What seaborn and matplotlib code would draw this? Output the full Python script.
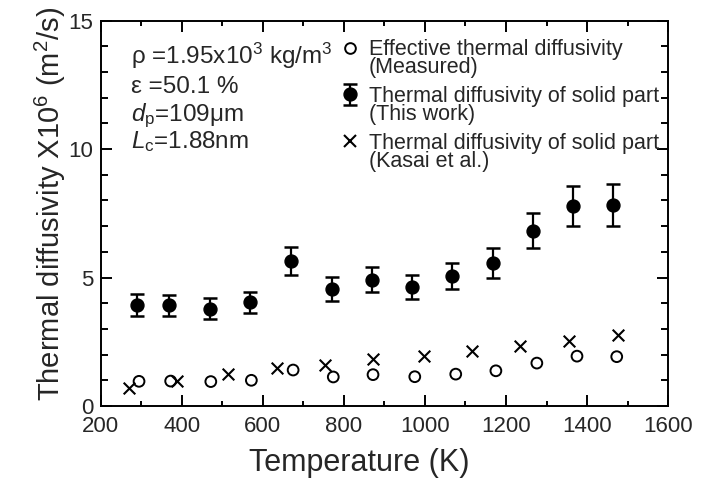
import matplotlib
matplotlib.use('Agg')
import matplotlib.pyplot as plt
import seaborn as sns
import pandas as pd
from matplotlib.lines import Line2D
from matplotlib.ticker import MultipleLocator

# effective thermal diffusivity, measured (open circles)
temp_eff = [295, 373, 472, 572, 675, 774, 872, 975, 1076, 1175, 1276, 1375, 1473]
alpha_eff = [0.96, 0.97, 0.95, 1.00, 1.40, 1.13, 1.22, 1.14, 1.24, 1.37, 1.67, 1.94, 1.92]

# solid part, this work (filled circles with error bars)
temp_solid = [291, 369, 470, 569, 669, 770, 869, 967, 1067, 1167, 1266, 1365, 1465]
alpha_solid = [3.93, 3.92, 3.79, 4.03, 5.63, 4.56, 4.92, 4.63, 5.06, 5.57, 6.83, 7.79, 7.84]
alpha_solid_err = [0.42, 0.42, 0.40, 0.41, 0.55, 0.47, 0.50, 0.47, 0.52, 0.57, 0.69, 0.79, 0.82]

# solid part, Kasai et al. (crosses)
temp_kasai = [270, 389, 514, 636, 754, 871, 998, 1116, 1235, 1355, 1476]
alpha_kasai = [0.71, 0.99, 1.23, 1.47, 1.61, 1.81, 1.95, 2.14, 2.33, 2.52, 2.76]

legend_first = ['Effective thermal diffusivity',
                'Thermal diffusivity of solid part',
                'Thermal diffusivity of solid part']
legend_second = ['(Measured)', '(This work)', '(Kasai et al.)']
sample_info = [r'ρ =1.95x10$^3$ kg/m$^3$', 'ε =50.1 %',
               r'$d_\mathrm{p}$=109μm', r'$L_\mathrm{c}$=1.88nm']

sns.set_theme(style='ticks')
plt.rcParams['font.family'] = ['Liberation Sans', 'DejaVu Sans']
plt.rcParams['mathtext.fontset'] = 'custom'
plt.rcParams['mathtext.rm'] = 'Liberation Sans'
plt.rcParams['mathtext.it'] = 'Liberation Sans:italic'
plt.rcParams['mathtext.bf'] = 'Liberation Sans:bold'

fig = plt.figure(figsize=(7.2, 4.82), dpi=100)
ax = fig.add_axes([0.1396, 0.1577, 0.7885, 0.7994])

eff = pd.DataFrame({'T': temp_eff, 'a': alpha_eff})
kas = pd.DataFrame({'T': temp_kasai, 'a': alpha_kasai})

sns.scatterplot(data=eff, x='T', y='a', marker='o', s=60, facecolor='none',
                edgecolor='black', linewidth=1.4, ax=ax, zorder=3)
sns.scatterplot(data=kas, x='T', y='a', marker='x', s=70, color='black',
                linewidth=1.5, ax=ax, zorder=3)
eb = ax.errorbar(temp_solid, alpha_solid, yerr=alpha_solid_err, fmt='o',
                 color='black', ms=9.3, elinewidth=1.6, capsize=4.9,
                 capthick=1.8, zorder=4)

ax.set_xlim(200, 1600)
ax.set_ylim(0, 15)
ax.xaxis.set_major_locator(MultipleLocator(200))
ax.xaxis.set_minor_locator(MultipleLocator(100))
ax.yaxis.set_major_locator(MultipleLocator(5))
ax.yaxis.set_minor_locator(MultipleLocator(1))
ax.tick_params(which='both', direction='in', top=True, right=True,
               color='black', width=1.4)
ax.tick_params(which='major', length=8, labelsize=16, pad=5)
ax.tick_params(axis='x', which='minor', length=3.5)
ax.tick_params(axis='y', which='minor', length=5)
ax.tick_params(axis='x', which='major', pad=7)
for s in ax.spines.values():
    s.set_linewidth(1.4)
    s.set_color('black')

ax.set_xlabel('Temperature (K)', fontsize=22)
ax.set_ylabel(r'Thermal diffusivity X10$^6$ (m$^2$/s)', fontsize=21)
ax.xaxis.set_label_coords(0.456, -0.108)
ax.yaxis.set_label_coords(-0.057, 0.524)

# sample description
info_y = [0.888, 0.812, 0.739, 0.670]
for txt, yy in zip(sample_info, info_y):
    ax.text(0.053, yy, txt, transform=ax.transAxes, fontsize=17.5,
            va='baseline', ha='left')

# legend: first lines with markers, second lines without
handles = [
    Line2D([], [], marker='o', ls='none', mfc='none', mec='black', ms=7.7, mew=1.4),
    eb,
    Line2D([], [], marker='x', ls='none', color='black', ms=8.4, mew=1.5),
]
leg_kw = dict(loc='upper left', frameon=False, fontsize=15.5, borderpad=0,
              borderaxespad=0, handlelength=1.0, handletextpad=0.38,
              labelspacing=1.2)
leg1 = ax.legend(handles, legend_first, bbox_to_anchor=(0.4203, 0.952), **leg_kw)
ax.add_artist(leg1)
blank = [Line2D([], [], ls='none') for _ in legend_second]
ax.legend(blank, legend_second, bbox_to_anchor=(0.4203, 0.9045), **leg_kw)

fig.savefig('out.png', dpi=100)
